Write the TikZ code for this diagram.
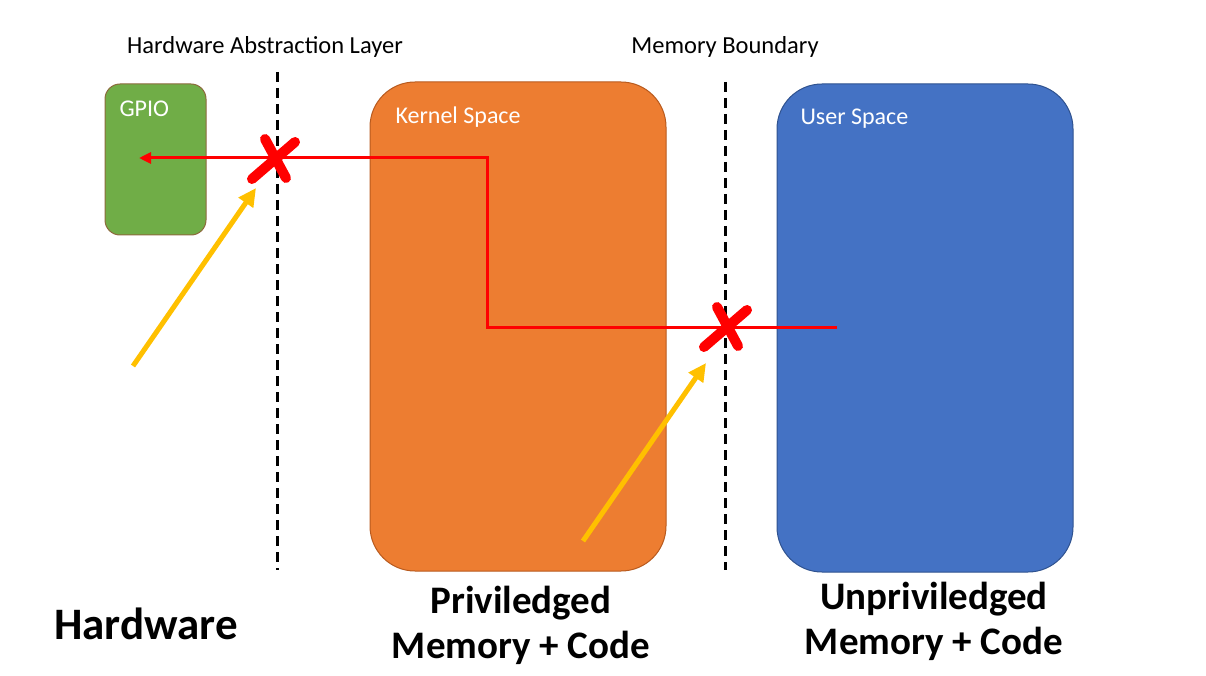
\documentclass[tikz,border=0pt]{standalone}
\usepackage{fontspec}
\setmainfont{Carlito}
\usetikzlibrary{arrows.meta,calc}
\definecolor{gpiogreen}{HTML}{70AD47}
\definecolor{gpioedge}{HTML}{8C6A3C}
\definecolor{kernorange}{HTML}{ED7D31}
\definecolor{kernedge}{HTML}{B85A1E}
\definecolor{userblue}{HTML}{4472C4}
\definecolor{useredge}{HTML}{2F528F}
\definecolor{xred}{HTML}{FF0000}
\definecolor{arrowyellow}{HTML}{FFC000}
\tikzset{
  region/.style={draw, line width=1pt, inner sep=0pt},
  boundary/.style={black, line width=3pt, dash pattern=on 10pt off 6pt},
  toplabel/.style={font=\fontsize{24.5}{28}\selectfont, text=black},
  inlabel/.style={font=\fontsize{24}{28}\selectfont, text=white, anchor=west},
  biglabel/.style={font=\bfseries\fontsize{39}{45}\selectfont, align=center},
  redpath/.style={xred, line width=3pt},
  cross/.style={xred, line width=10pt, line cap=round},
  yarrow/.style={arrowyellow, line width=5pt, -{Triangle[length=18pt,width=17pt]}},
}
\begin{document}
\begin{tikzpicture}[x=1pt,y=-1pt]
\useasboundingbox (0,0) rectangle (1206,676);
% regions
\draw[region, fill=gpiogreen, draw=gpioedge, rounded corners=15pt] (105,84) rectangle (206,235);
\draw[region, fill=kernorange, draw=kernedge, rounded corners=45pt] (370,82) rectangle (666,571);
\draw[region, fill=userblue, draw=useredge, rounded corners=45pt] (777,84) rectangle (1073,572);
% boundaries
\coordinate (hal top) at (277,72);
\coordinate (hal bot) at (277,570);
\coordinate (mb top) at (725,82);
\coordinate (mb bot) at (725,570);
\draw[boundary] (hal top) -- (hal bot);
\draw[boundary] (mb top) -- (mb bot);
% labels
\node[toplabel] (hal) at (265,47) {Hardware Abstraction Layer};
\node[toplabel] (mb) at (725,47) {Memory Boundary};
\node[inlabel] (gpiolbl) at (116,109) {GPIO};
\node[inlabel] (kernlbl) at (392,117) {Kernel Space};
\node[inlabel] (userlbl) at (797,119) {User Space};
\node[biglabel, font=\bfseries\fontsize{45}{50}\selectfont] (hw) at (146,624) {Hardware};
\node[biglabel] (priv) at (521,625) {Priviledged\\Memory + Code};
\node[biglabel] (unpriv) at (934,621) {Unpriviledged\\Memory + Code};
% red path
\coordinate (start) at (837,327);
\coordinate (c1) at (487,327);
\coordinate (c2) at (487,158);
\coordinate (tip) at (139,158);
\draw[redpath, -{Triangle[length=12pt,width=11pt]}] (start) -- (c1) -- (c2) -- (tip);
% yellow arrows
\coordinate (y1s) at (133,366);
\coordinate (y1e) at (256,188);
\coordinate (y2s) at (583,541);
\coordinate (y2e) at (706,363);
\draw[yarrow] (y1s) -- (y1e);
\draw[yarrow] (y2s) -- (y2e);
% crosses
\coordinate (x1) at (273,159);
\coordinate (x2) at (725,327);
\foreach \c in {x1,x2}{
  \draw[cross] ($(\c)+(-8,-20)$) -- ($(\c)+(13,19)$);
  \draw[cross] ($(\c)+(-21,20)$) -- ($(\c)+(22,-17)$);
}
\end{tikzpicture}
\end{document}
